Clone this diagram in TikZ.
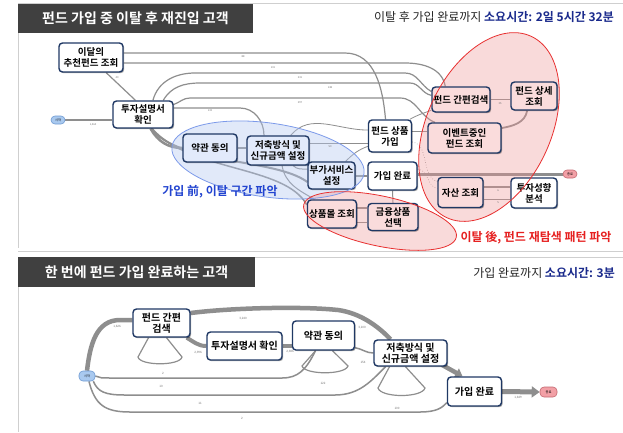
\documentclass[tikz,border=0pt]{standalone}
\usepackage{fontspec}
\setmainfont{Noto Sans CJK KR}[BoldFont={* Bold}]
\usetikzlibrary{shadows,arrows.meta}
\definecolor{navy}{HTML}{1F3864}
\definecolor{titlebg}{HTML}{404040}
\definecolor{hblue}{HTML}{1A2A8C}
\definecolor{lblue}{HTML}{2244D0}
\definecolor{lred}{HTML}{E62020}
\definecolor{flowgray}{HTML}{8E8E8E}
\definecolor{pillblue}{HTML}{A9C9EF}
\definecolor{pillbluedraw}{HTML}{6F9BD3}
\definecolor{pillpink}{HTML}{F2A0A6}
\definecolor{pillpinkdraw}{HTML}{C46A72}
\definecolor{ellblue}{HTML}{7C9AEA}
\definecolor{ellbluefill}{HTML}{B4C8F0}
\definecolor{ellred}{HTML}{E83030}
\definecolor{ellredfill}{HTML}{F09696}
\definecolor{boxblue}{RGB}{226,234,251}
\definecolor{boxpink}{RGB}{250,220,220}
\definecolor{framegray}{HTML}{CFCFCF}
\pgfdeclarelayer{bg}
\pgfdeclarelayer{fg}
\pgfsetlayers{bg,main,fg}
\tikzset{
 box/.style={draw=navy, line width=1.4pt, rounded corners=3.5pt, fill=white, align=center, inner sep=0.5pt,
   font=\bfseries\fontsize{9.5}{11}\selectfont,
   drop shadow={shadow xshift=1.2pt, shadow yshift=-1.2pt, opacity=0.35, fill=black}},
 bluebox/.style={box, fill=boxblue},
 pinkbox/.style={box, fill=boxpink},
 bbox/.style={box, font=\bfseries\fontsize{10}{11}\selectfont},
 pill/.style={rounded corners=4pt, line width=0.6pt, inner sep=0pt, font=\fontsize{3.2}{3.5}\selectfont},
 bpill/.style={pill, draw=pillbluedraw, fill=pillblue},
 ppill/.style={pill, draw=pillpinkdraw, fill=pillpink},
 fl/.style={draw=flowgray, line width=#1},
 tag/.style={font=\fontsize{2.6}{3}\selectfont, text=black!55, inner sep=0pt},
 btag/.style={font=\fontsize{3}{3.5}\selectfont, text=black!55, inner sep=0pt},
 ttl/.style={text=white, font=\bfseries\fontsize{14}{16}\selectfont, inner sep=0pt},
 hdr/.style={anchor=east, font=\fontsize{12}{14}\selectfont, text=black!85, inner sep=0pt},
 blueell/.style={rotate around={-8:(268,160)}},
 redell/.style={rotate around={65:(489,127)}},
 smallell/.style={rotate around={-12:(380,221)}},
}
\begin{document}
\begin{tikzpicture}[x=1pt,y=-1pt]
\useasboundingbox (0,0) rectangle (623,432);
\begin{pgfonlayer}{bg}
\fill[white] (0,0) rectangle (623,432);
\draw[framegray, line width=0.8pt] (18,3) -- (623,3);
\draw[framegray, line width=0.8pt] (18,3) -- (18,248);
\draw[framegray, line width=1.5pt] (18,251.5) -- (623,251.5);
\draw[framegray, line width=0.8pt] (18,257) -- (623,257);
\draw[framegray, line width=0.8pt] (18,257) -- (18,432);
\fill[titlebg] (18,4) rectangle (253,33);
\fill[titlebg] (18,257) rectangle (255,287);
\end{pgfonlayer}

\node[ttl] (title1) at (135.5,18.5) {펀드 가입 중 이탈 후 재진입 고객};
\node[hdr] (head1) at (614,17) {이탈 후 가입 완료까지 \textcolor{hblue}{\bfseries 소요시간: 2일 5시간 32분}};
\node[ttl] (title2) at (136.5,272) {한 번에 펀드 가입 완료하는 고객};
\node[hdr] (head2) at (615,273) {가입 완료까지 \textcolor{hblue}{\bfseries 소요시간: 3분}};

% ---------- top nodes ----------
\node[bpill, minimum width=14, minimum height=8] (st) at (58,120) {시작};
\node[ppill, minimum width=14, minimum height=8] (end) at (570,174) {종료};
\node[box, minimum width=64, minimum height=29] (mon) at (91,57.5) {이달의\\추천펀드 조회};
\node[box, minimum width=60, minimum height=27] (inv) at (143,114.5) {투자설명서\\확인};
\node[bluebox, minimum width=54, minimum height=28] (agr) at (210,148) {약관 동의};
\node[bluebox, minimum width=62, minimum height=29] (sav) at (278,150.5) {저축방식 및\\신규금액 설정};
\node[bluebox, minimum width=47, minimum height=27] (add) at (331.5,175.5) {부가서비스\\설정};
\node[box, minimum width=43, minimum height=32] (join) at (390,136) {펀드 상품\\가입};
\node[box, minimum width=49, minimum height=28] (done) at (392.5,176) {가입 완료};
\node[pinkbox, minimum width=49, minimum height=28] (mall) at (332,214) {상품몰 조회};
\node[pinkbox, minimum width=50, minimum height=27] (sel) at (393,217) {금융상품\\선택};
\node[pinkbox, minimum width=58, minimum height=25] (qs) at (461,99.5) {펀드 간편검색};
\node[pinkbox, minimum width=73, minimum height=30] (evt) at (464.5,138) {이벤트중인\\펀드 조회};
\node[pinkbox, minimum width=46, minimum height=28] (det) at (534,96) {펀드 상세\\조회};
\node[pinkbox, minimum width=45, minimum height=30] (asset) at (460.5,192.5) {자산 조회};
\node[box, minimum width=46, minimum height=30] (risk) at (534,193) {투자성향\\분석};

% ---------- bottom nodes ----------
\node[bpill, minimum width=16, minimum height=10] (st2) at (87,376) {시작};
\node[ppill, minimum width=17, minimum height=10] (end2) at (548.5,392) {종료};
\node[bbox, minimum width=57, minimum height=28] (qs2) at (161.5,323) {펀드 간편\\검색};
\node[bbox, minimum width=75, minimum height=28] (inv2) at (244.5,346) {투자설명서 확인};
\node[bbox, minimum width=62, minimum height=29] (agr2) at (323.5,335.5) {약관 동의};
\node[bbox, minimum width=73, minimum height=26] (sav2) at (410.5,353) {저축방식 및\\신규금액 설정};
\node[bbox, minimum width=54, minimum height=29] (done2) at (474.5,391.5) {가입 완료};

\begin{pgfonlayer}{bg}
% top connectors
\draw[fl=2.5pt] (st.east) -- (st.east -| inv.west);
\draw[fl=1.2pt] (mon.-45) -- (inv.118);
\draw[fl=1.2pt] (mon.east |- 0,53) -- (345,53) to[out=0,in=95] (join.105);
\draw[fl=1.2pt] (mon.east |- 0,63) -- (405,63) to[out=0,in=100] (qs.140);
\draw[fl=1.2pt] (inv.55) to[out=75,in=180] (195,73) -- (405,73) to[out=0,in=150] (qs.165);
\draw[fl=1.2pt] (inv.35) to[out=60,in=180] (200,83) -- (410,83) to[out=0,in=170] (qs.172);
\draw[fl=1.2pt] (inv.18) to[out=20,in=180] (190,98) -- (400,98) to[out=0,in=160] (evt.152);
\draw[fl=1.2pt] (inv.east |- 0,108) -- (240,108) to[out=0,in=90] ([xshift=-14pt]sav.north);
\draw[fl=1pt] (sav.east |- 0,143) -- (join.west |- 0,143);
\draw[fl=0.8pt] (sav.50) to[out=50,in=180] (join.165);
\draw[fl=1pt] (join.east |- 0,131) -- (evt.west |- 0,131);
\draw[fl=0.8pt] (join.40) to[out=30,in=200] (qs.200);
\draw[fl=1pt] (qs.east) -- (qs.east -| det.west);
\draw[fl=1.8pt] (evt.15) to[out=10,in=-100] (det.-115);
\draw[fl=3pt] (done.east |- end.west) -- (end.west);
\draw[fl=0.6pt, dotted] (join.-15) to[out=-10,in=160] (asset.155);
\draw[fl=0.6pt, dotted] (done.15) to[out=0,in=170] (asset.170);
\draw[fl=1.5pt] (asset.east |- 0,187) -- (risk.west |- 0,187);
\draw[fl=1pt] (asset.east |- 0,199) -- (risk.west |- 0,199);
\draw[fl=2.5pt] (inv.-62) to[out=-60,in=180] (agr.west);
\draw[fl=2pt] (inv.-60) .. controls (180,165) and (275,158) .. (add.195);
\draw[fl=1.5pt] (inv.-57) .. controls (190,172) and (285,165) .. (mall.160);
\draw[fl=1pt] (sav.-45) to[out=-45,in=180] (add.165);
\draw[fl=1pt] (sav.-75) to[out=-80,in=150] (mall.140);
\draw[fl=2pt] (agr.east) -- (agr.east -| sav.west);
\draw[fl=2pt] (add.east) -- (add.east -| done.west);
\draw[fl=0.8pt] (add.45) to[out=45,in=200] (join.205);
\draw[fl=1.2pt] (mall.east |- 0,208) -- (sel.west |- 0,208);
\draw[fl=1pt] (mall.east |- 0,222) -- (sel.west |- 0,222);
\draw[fl=1pt] (sel.north) -- (done.south);

% ellipse fills (under the boxes, over the connectors)
\fill[ellbluefill, fill opacity=0.4, blueell] (268,160) ellipse [x radius=97, y radius=37];
\fill[ellredfill, fill opacity=0.35, redell] (489,127) ellipse [x radius=100, y radius=62];
\fill[ellredfill, fill opacity=0.35, smallell] (380,221) ellipse [x radius=78, y radius=25];

% bottom connectors
\draw[fl=4.5pt] (st2.north) .. controls (90,345) and (96,320) .. (120,320) -- (120,320 -| qs2.west);
\draw[fl=4.5pt] (qs2.east |- 0,313) .. controls (230,308) and (300,306) .. (338,310) .. controls (360,313) and (378,326) .. ([xshift=-20pt]sav2.north);
\draw[fl=4pt] ([xshift=-4pt]qs2.south east) to[out=-30,in=180] (inv2.west);
\draw[fl=4pt] (inv2.east) -- (inv2.east -| agr2.west);
\draw[fl=1.5pt] ([yshift=3pt]agr2.south east) to[out=-10,in=180] (sav2.west);
\draw[fl=4.5pt, -{Triangle[length=7pt,width=10pt]}] ([xshift=-6pt,yshift=2pt]sav2.south east) -- ([xshift=-12pt]done2.north);
\draw[fl=5pt, -{Triangle[length=8pt,width=11pt]}] (done2.east) -- (end2.west);
\draw[fl=1.5pt] (st2.east) .. controls (100,378) .. (115,378) -- (282,378) .. controls (298,378) and (306,370) .. ([xshift=-8pt]agr2.south);
\draw[fl=1.5pt] (st2.-40) .. controls (98,392) and (105,395) .. (125,395) -- (335,395) .. controls (360,395) and (372,380) .. ([xshift=-25pt]sav2.south);
\draw[fl=1.5pt] (st2.-70) .. controls (95,405) and (105,412) .. (130,412) -- (420,412) .. controls (436,412) and (442,408) .. ([yshift=4pt]done2.south west);
\draw[fl=1.2pt] ([xshift=-13pt]qs2.south) -- (138,357) .. controls (140,366) and (180,366) .. (182,357) -- ([xshift=5pt]qs2.south);
\draw[fl=1.2pt] ([xshift=-8pt]agr2.south) -- (302,366) .. controls (305,375) and (345,375) .. (348,366) -- ([xshift=9pt]agr2.south);
\draw[fl=1.2pt] ([xshift=-21pt]sav2.south) -- (378,388) .. controls (381,398) and (422,398) .. (425,388) -- ([xshift=-5pt]sav2.south);
\end{pgfonlayer}

\begin{pgfonlayer}{fg}
\draw[ellblue, line width=0.8pt, blueell] (268,160) ellipse [x radius=97, y radius=37];
\draw[ellred, line width=0.8pt, redell] (489,127) ellipse [x radius=100, y radius=62];
\draw[ellred, line width=0.8pt, smallell] (380,221) ellipse [x radius=78, y radius=25];
\node[font=\bfseries\fontsize{12}{14}\selectfont, text=lblue, inner sep=0pt] (lb1) at (220,192) {가입 前, 이탈 구간 파악};
\node[font=\bfseries\fontsize{12}{14}\selectfont, text=lred, inner sep=0pt] (lb2) at (536,238) {이탈 後, 펀드 재탐색 패턴 파악};
% tiny flow counts (top)
\node[tag] (t1) at (93,125) {1,460};
\node[tag] (t2) at (243,57) {88};
\node[tag] (t3) at (273,67.5) {101};
\node[tag] (t4) at (300,78) {231};
\node[tag] (t5) at (330,88) {148};
\node[tag] (t6) at (300,103) {297};
\node[tag] (t7) at (210,111) {133};
\node[tag] (t8) at (330,147) {50};
\node[tag] (t9) at (500,104) {35};
\node[tag] (t10) at (498,191) {6};
\node[tag] (t11) at (498,203) {5};
\node[tag] (t12) at (117,78) {40};
% tiny flow counts (bottom)
\node[btag] (b1) at (117,327) {1,626};
\node[btag] (b2) at (243,319) {3,240};
\node[btag] (b3) at (198,353) {2,396};
\node[btag] (b4) at (290,352) {2,386};
\node[btag] (b5) at (163,373) {2};
\node[btag] (b6) at (161,386) {10};
\node[btag] (b7) at (200,403) {11};
\node[btag] (b8) at (242,418) {2};
\node[btag] (b9) at (323,383) {122};
\node[btag] (b10) at (363,362) {154};
\node[btag] (b11) at (397,408) {100};
\node[btag] (b12) at (518,398) {1,649};
\node[btag] (b13) at (362,328) {3,100};
\end{pgfonlayer}
\end{tikzpicture}
\end{document}
